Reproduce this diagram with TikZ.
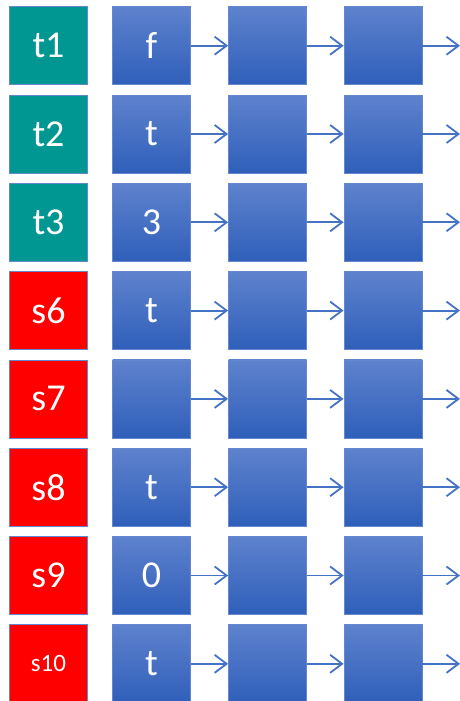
\documentclass[tikz,border=0pt]{standalone}
\usepackage{fontspec}
\setmainfont{Carlito}
\usetikzlibrary{arrows.meta}
\definecolor{tealbox}{RGB}{0,150,146}
\definecolor{redbox}{RGB}{255,0,0}
\definecolor{bluetop}{RGB}{94,130,205}
\definecolor{bluebot}{RGB}{47,95,186}
\definecolor{edgeblue}{RGB}{100,135,205}
\definecolor{arrowblue}{RGB}{68,114,196}
\tikzset{
  cell/.style={minimum width=78pt, minimum height=78pt, inner sep=0pt, draw=edgeblue, line width=0.8pt, text=white, font=\fontsize{38}{42}\selectfont},
  tealcell/.style={cell, fill=tealbox},
  redcell/.style={cell, fill=redbox},
  bluecell/.style={cell, top color=bluetop, bottom color=bluebot},
  link/.style={draw=arrowblue, line width=1.8pt, -{Straight Barb[length=12pt, width=18pt, line width=1.8pt]}}
}
\begin{document}
\begin{tikzpicture}[x=1pt,y=-1pt]
\useasboundingbox (0,0) rectangle (460,701);
\foreach \i/\lab/\val/\sty in {0/t1/f/tealcell,1/t2/t/tealcell,2/t3/3/tealcell,3/s6/t/redcell,4/s7//redcell,5/s8/t/redcell,6/s9/0/redcell,7/{\fontsize{25}{28}\selectfont s10}/t/redcell}{
  \pgfmathsetmacro{\yc}{45.7+88.3*\i}
  \node[\sty] (a\i) at (48.5,\yc) {\lab};
  \node[bluecell] (b\i) at (151.5,\yc) {\val};
  \node[bluecell] (c\i) at (267.5,\yc) {};
  \node[bluecell] (d\i) at (383,\yc) {};
  \coordinate (e\i) at (460,\yc);
  \draw[link] (b\i.east) -- (c\i.west);
  \draw[link] (c\i.east) -- (d\i.west);
  \draw[link] (d\i.east) -- (e\i);
}
\end{tikzpicture}
\end{document}
